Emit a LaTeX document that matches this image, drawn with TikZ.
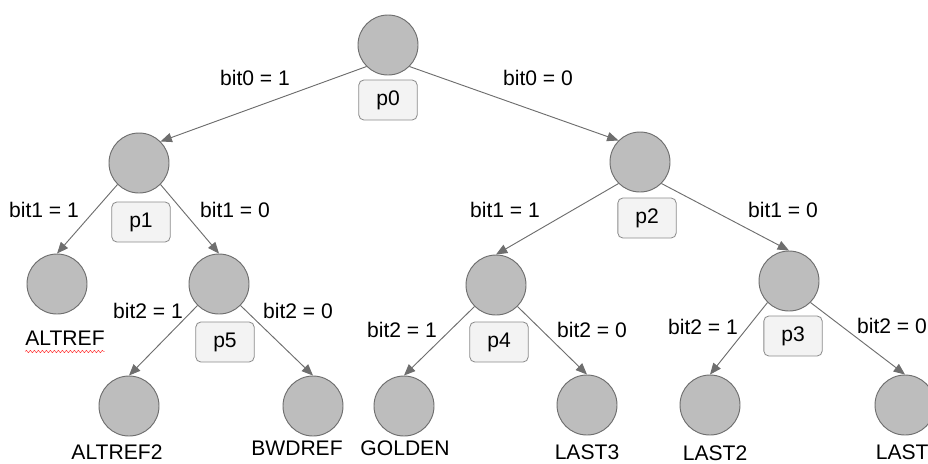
\documentclass[tikz,border=0pt]{standalone}
\usepackage{fontspec}
\setmainfont{Liberation Sans}
\usetikzlibrary{arrows.meta,decorations.pathmorphing}

\definecolor{nodegray}{HTML}{BDBDBD}
\definecolor{linegray}{HTML}{6E6E6E}
\definecolor{boxgray}{HTML}{F3F3F3}

\tikzset{
  state/.style={circle,draw=linegray,fill=nodegray,line width=0.8pt,
    minimum size=1.8cm,inner sep=0pt},
  pbox/.style={rounded corners=1.5mm,draw=linegray!80,fill=boxgray,
    line width=0.7pt,minimum width=1.75cm,minimum height=1.2cm,inner sep=0pt,
    font=\fontsize{18}{21}\selectfont},
  edge/.style={draw=linegray,line width=0.8pt,
    -{Triangle[length=3.4mm,width=2.8mm]}},
  lbl/.style={font=\fontsize{18}{21}\selectfont,inner sep=0pt}
}

\begin{document}
\begin{tikzpicture}[x=0.03cm,y=-0.03cm]
  \clip (0,0) rectangle (928,463);
  % decision nodes
  \node[state] (n0) at (388,45) {};
  \node[state] (n1) at (139,163) {};
  \node[state] (n2) at (640,162) {};
  \node[state] (n5) at (219,284) {};
  \node[state] (n4) at (496,285) {};
  \node[state] (n3) at (789,281) {};
  % leaves
  \node[state] (altref)  at (57,284) {};
  \node[state] (altref2) at (129,406) {};
  \node[state] (bwdref)  at (313,406) {};
  \node[state] (golden)  at (404,406) {};
  \node[state] (last3)   at (587,405) {};
  \node[state] (last2)   at (710,405) {};
  \node[state] (last1)   at (905,405) {};

  % branches
  \draw[edge] (n0.south west) -- (n1.north east);
  \draw[edge] (n0.south east) -- (n2.north west);
  \draw[edge] (n1.south west) -- (altref.north);
  \draw[edge] (n1.south east) -- (n5.north);
  \draw[edge] (n5.south west) -- (altref2.north);
  \draw[edge] (n5.south east) -- (bwdref.north);
  \draw[edge] (n2.south west) -- (n4.north);
  \draw[edge] (n2.south east) -- (n3.north);
  \draw[edge] (n4.south west) -- (golden.north);
  \draw[edge] (n4.south east) -- (last3.north);
  \draw[edge] (n3.south west) -- (last2.north);
  \draw[edge] (n3.south east) -- (last1.north);

  % probability boxes
  \node[pbox] (p0) at (388,100) {p0};
  \node[pbox] (p1) at (141,222) {p1};
  \node[pbox] (p2) at (647,218) {p2};
  \node[pbox] (p5) at (225,342) {p5};
  \node[pbox] (p4) at (499,342) {p4};
  \node[pbox] (p3) at (793,336) {p3};

  % branch labels
  \node[lbl] (b0a) at (255,78)  {bit0 = 1};
  \node[lbl] (b0b) at (538,78)  {bit0 = 0};
  \node[lbl] (b1a) at (44,210)  {bit1 = 1};
  \node[lbl] (b1b) at (235,210) {bit1 = 0};
  \node[lbl] (b1c) at (505,210) {bit1 = 1};
  \node[lbl] (b1d) at (783,210) {bit1 = 0};
  \node[lbl] (b2a) at (148,311) {bit2 = 1};
  \node[lbl] (b2b) at (298,311) {bit2 = 0};
  \node[lbl] (b2c) at (402,330) {bit2 = 1};
  \node[lbl] (b2d) at (592,330) {bit2 = 0};
  \node[lbl] (b2e) at (703,327) {bit2 = 1};
  \node[lbl] (b2f) at (892,326) {bit2 = 0};

  % reference frame names
  \node[lbl] (altreflbl)  at (65,338)  {ALTREF};
  \node[lbl] (altref2lbl) at (117,452) {ALTREF2};
  \node[lbl] (bwdreflbl)  at (297,448) {BWDREF};
  \node[lbl] (goldenlbl)  at (405,448) {GOLDEN};
  \node[lbl] (last3lbl)   at (587,452) {LAST3};
  \node[lbl] (last2lbl)   at (715,453) {LAST2};
  \node[lbl] (last1lbl)   at (908,452) {LAST1};

  % spell-check squiggle
  \draw[red!85,line width=0.4pt,decorate,
    decoration={snake,amplitude=0.35mm,segment length=1.2mm}]
    ([yshift=-1.8mm]altreflbl.south west) -- ([yshift=-1.8mm]altreflbl.south east);
\end{tikzpicture}
\end{document}
